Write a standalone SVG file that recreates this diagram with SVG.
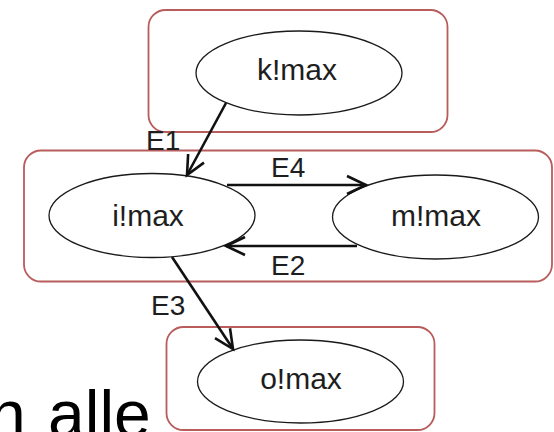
<svg xmlns="http://www.w3.org/2000/svg" width="554" height="432" viewBox="0 0 554 432">
  <style>
    .box { fill: none; stroke: #b85c5c; stroke-width: 1.8; }
    .node { fill: #ffffff; stroke: #1a1a1a; stroke-width: 1.3; }
    .lbl { font-family: "Liberation Sans", Arial, sans-serif; font-size: 30px; fill: #1e1e1e; }
    .elbl { font-family: "Liberation Sans", Arial, sans-serif; font-size: 28px; fill: #1e1e1e; }
    .edge { fill: none; stroke: #111111; stroke-width: 2.6; }
    .big { font-family: "Liberation Sans", Arial, sans-serif; font-size: 66px; fill: #000000; }
  </style>
  <defs>
    <marker id="arrow" markerUnits="userSpaceOnUse" markerWidth="24" markerHeight="24" viewBox="-22 -12 24 24" refX="0" refY="0" orient="auto" overflow="visible">
      <path d="M-19,-9 L0,0 L-19,9" fill="none" stroke="#111111" stroke-width="2.6" stroke-linejoin="miter"/>
    </marker>
  </defs>

  <rect width="554" height="432" fill="#ffffff"/>

  <!-- slide text running under the diagram -->
  <text class="big" x="-11" y="437" word-spacing="4">n alle</text>

  <!-- group containers -->
  <rect class="box" x="148.5" y="10" width="299" height="122" rx="17"/>
  <rect class="box" x="24" y="150.5" width="528" height="131" rx="17"/>
  <rect class="box" x="166.5" y="327" width="268" height="103" rx="17"/>

  <g id="k">
    <ellipse class="node" cx="299" cy="73" rx="103" ry="42"/>
    <text class="lbl" x="297" y="80" text-anchor="middle">k!max</text>
  </g>
  <g id="i">
    <ellipse class="node" cx="152" cy="215.5" rx="103" ry="42"/>
    <text class="lbl" x="148" y="226" text-anchor="middle">i!max</text>
  </g>
  <g id="m">
    <ellipse class="node" cx="435.5" cy="217" rx="103" ry="42"/>
    <text class="lbl" x="436" y="226" text-anchor="middle">m!max</text>
  </g>
  <g id="o">
    <ellipse class="node" cx="300.5" cy="381.5" rx="103" ry="41.5"/>
    <text class="lbl" x="301" y="389" text-anchor="middle">o!max</text>
  </g>

  <g id="connectors">
    <path class="edge" d="M226,103 L187,175" marker-end="url(#arrow)"/>
    <path class="edge" d="M227,185 L366,185" marker-end="url(#arrow)"/>
    <path class="edge" d="M357,246 L226,246" marker-end="url(#arrow)"/>
    <path class="edge" d="M172,257 L233,349" marker-end="url(#arrow)"/>
    <text class="elbl" x="146" y="150">E1</text>
    <text class="elbl" x="271" y="177">E4</text>
    <text class="elbl" x="271" y="275">E2</text>
    <text class="elbl" x="151" y="315">E3</text>
  </g>
</svg>
